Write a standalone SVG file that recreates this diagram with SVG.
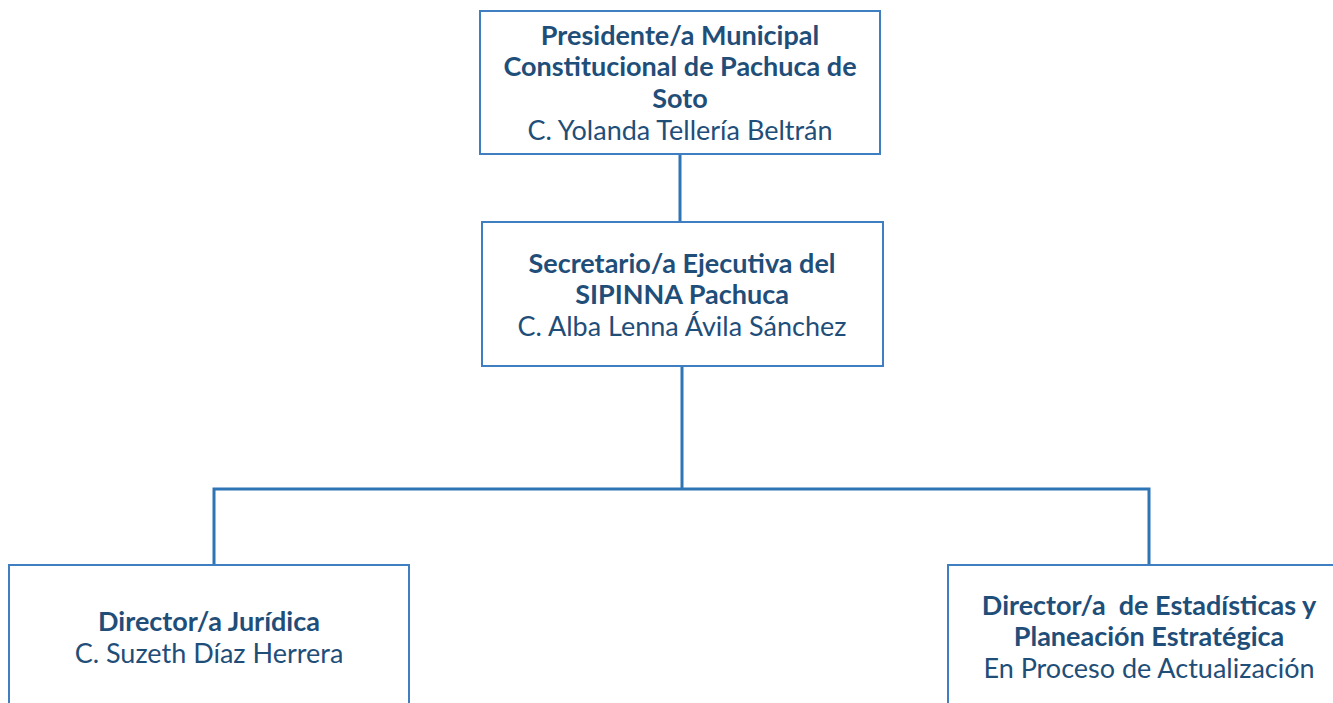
<svg xmlns="http://www.w3.org/2000/svg" width="1333" height="703" viewBox="0 0 1333 703">
<style>
.box{fill:#ffffff;stroke:#3f7fc1;stroke-width:2}
.conn{stroke:#2e75b6;stroke-width:3;fill:none}
text{font-family:Lato,"Open Sans","Liberation Sans",sans-serif;font-size:27px;fill:#1f4e79;text-anchor:middle}
.b{font-weight:bold}
</style>
<rect width="1333" height="703" fill="#ffffff"/>
<g id="connectors">
<line class="conn" x1="680" y1="154" x2="680" y2="222"/>
<line class="conn" x1="682" y1="366" x2="682" y2="489"/>
<polyline class="conn" points="214,565 214,489 1149,489 1149,565"/>
</g>
<g id="node-presidente">
<rect class="box" x="480" y="11" width="400" height="143"/>
<text class="b" x="680" y="45">Presidente/a Municipal</text>
<text class="b" x="680" y="76">Constitucional de Pachuca de</text>
<text class="b" x="680" y="108">Soto</text>
<text x="680" y="140">C. Yolanda Tellería Beltrán</text>
</g>
<g id="node-secretario">
<rect class="box" x="482" y="222" width="401" height="144"/>
<text class="b" x="682" y="273">Secretario/a Ejecutiva del</text>
<text class="b" x="682" y="304">SIPINNA Pachuca</text>
<text x="682" y="336">C. Alba Lenna Ávila Sánchez</text>
</g>
<g id="node-juridica">
<rect class="box" x="9" y="565" width="400" height="160"/>
<text class="b" x="209" y="631">Director/a Jurídica</text>
<text x="209" y="663">C. Suzeth Díaz Herrera</text>
</g>
<g id="node-estadisticas">
<rect class="box" x="948" y="565" width="402" height="160"/>
<text class="b" x="1149" y="615" xml:space="preserve">Director/a  de Estadísticas y</text>
<text class="b" x="1149" y="646">Planeación Estratégica</text>
<text x="1149" y="678">En Proceso de Actualización</text>
</g>
</svg>
